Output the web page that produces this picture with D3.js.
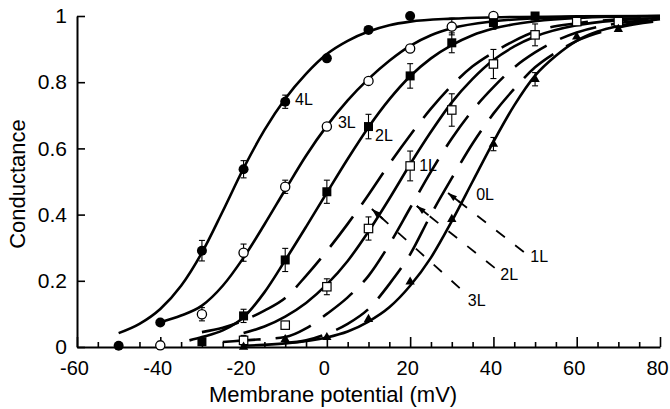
<!DOCTYPE html>
<html>
<head>
<meta charset="utf-8">
<script src="https://cdn.jsdelivr.net/npm/d3@7"></script>
<style>
  body { margin: 0; background: #fff; }
  svg { display: block; font-family: "Liberation Sans", Arial, sans-serif; }
</style>
</head>
<body>
<svg id="chart"></svg>
<script>
// axis ticks
const xMajor = [-60, -40, -20, 0, 20, 40, 60, 80];
const xTickLabels = ["-60", "-40", "-20", "0", "20", "40", "60", "80"];
const xMinor = [-55, -50, -45, -35, -30, -25, -15, -10, -5, 5, 10, 15, 25, 30, 35, 45, 50, 55, 65, 70, 75];
const yTicks = [0, 0.2, 0.4, 0.6, 0.8, 1];
const yTickLabels = ["0", "0.2", "0.4", "0.6", "0.8", "1"];

// measured points: [mV, conductance, error]
const pts4L = [[-50, 0.004, 0], [-40, 0.074, 0], [-30, 0.291, 0.031], [-20, 0.537, 0.026], [-10, 0.741, 0.02], [0, 0.872, 0], [10, 0.958, 0], [20, 1.0, 0]];
const pts3L = [[-40, 0.005, 0.012], [-30, 0.099, 0.02], [-20, 0.285, 0.026], [-10, 0.484, 0.02], [0, 0.666, 0], [10, 0.804, 0], [20, 0.902, 0], [30, 0.968, 0.025], [40, 1.0, 0]];
const pts2L = [[-30, 0.016, 0], [-20, 0.094, 0.02], [-10, 0.263, 0.035], [0, 0.469, 0.035], [10, 0.666, 0.037], [20, 0.819, 0.037], [30, 0.919, 0.03], [40, 0.98, 0.02], [50, 1.0, 0]];
const pts1L = [[-20, 0.02, 0.015], [-10, 0.066, 0], [0, 0.182, 0.024], [10, 0.358, 0.035], [20, 0.547, 0.045], [30, 0.716, 0.049], [40, 0.855, 0.044], [50, 0.943, 0.033], [60, 0.983, 0], [70, 0.983, 0]];
const pts0L = [[-20, 0.0, 0], [-10, 0.023, 0], [0, 0.029, 0], [10, 0.084, 0], [20, 0.197, 0], [30, 0.386, 0], [40, 0.613, 0.02], [50, 0.809, 0.02], [60, 0.937, 0], [70, 0.96, 0]];

// fitted curves (solid)
const fit4L = [[-50, 0.042], [-45, 0.07], [-40, 0.115], [-35, 0.185], [-30, 0.285], [-25, 0.41], [-20, 0.54], [-15, 0.655], [-10, 0.75], [-5, 0.825], [0, 0.885], [5, 0.925], [10, 0.953], [15, 0.972], [20, 0.983], [30, 0.992], [40, 0.996], [60, 0.999], [80, 1.0]];
const fit3L = [[-40, 0.075], [-35, 0.095], [-30, 0.125], [-25, 0.185], [-20, 0.27], [-15, 0.37], [-10, 0.475], [-5, 0.578], [0, 0.668], [5, 0.745], [10, 0.81], [15, 0.865], [20, 0.91], [25, 0.942], [30, 0.963], [40, 0.984], [50, 0.993], [60, 0.997], [80, 1.0]];
const fit2L = [[-33, 0.02], [-30, 0.03], [-25, 0.05], [-20, 0.09], [-15, 0.165], [-10, 0.262], [-5, 0.363], [0, 0.466], [5, 0.568], [10, 0.664], [15, 0.748], [20, 0.818], [25, 0.872], [30, 0.912], [35, 0.942], [40, 0.962], [50, 0.984], [60, 0.994], [80, 1.0]];
const fit1L = [[-20, 0.042], [-15, 0.062], [-10, 0.092], [-5, 0.133], [0, 0.189], [5, 0.26], [10, 0.349], [15, 0.448], [20, 0.552], [25, 0.65], [30, 0.739], [35, 0.81], [40, 0.867], [45, 0.908], [50, 0.938], [60, 0.972], [70, 0.987], [80, 0.994]];
const fit0L = [[-20, 0.004], [-10, 0.011], [0, 0.029], [5, 0.047], [10, 0.077], [15, 0.12], [20, 0.185], [25, 0.27], [30, 0.38], [35, 0.5], [40, 0.62], [45, 0.73], [50, 0.82], [55, 0.88], [60, 0.925], [65, 0.953], [70, 0.97], [75, 0.982], [80, 0.99]];

// predicted curves (dashed)
const pred3L = [[-30, 0.045], [-25, 0.058], [-20, 0.08], [-15, 0.11], [-10, 0.148], [-5, 0.215], [0, 0.29], [5, 0.372], [10, 0.46], [15, 0.553], [20, 0.64], [25, 0.72], [30, 0.79], [35, 0.848], [40, 0.89], [45, 0.925], [50, 0.953], [60, 0.978], [70, 0.99], [80, 0.995]];
const pred2L = [[-25, 0.015], [-20, 0.02], [-10, 0.03], [-5, 0.056], [0, 0.1], [5, 0.15], [10, 0.215], [15, 0.31], [20, 0.42], [25, 0.53], [30, 0.63], [35, 0.715], [40, 0.785], [45, 0.845], [50, 0.89], [55, 0.925], [60, 0.95], [70, 0.978], [80, 0.99]];
const pred1L = [[-10, 0.012], [-5, 0.02], [0, 0.04], [5, 0.07], [10, 0.115], [15, 0.19], [20, 0.28], [25, 0.4], [30, 0.51], [35, 0.615], [40, 0.705], [45, 0.78], [50, 0.845], [55, 0.89], [60, 0.925], [70, 0.965], [80, 0.985]];

// curve labels [text, mV, conductance]
const curveLabels = [["4L", -5.5, 0.748], ["3L", 4.8, 0.678], ["2L", 13.7, 0.64], ["1L", 24.3, 0.55], ["0L", 38, 0.462],
  ["1L", 51, 0.275], ["2L", 43.8, 0.22], ["3L", 36, 0.142]];
// leader lines to the dashed curves [tip mV, tip g, end mV, end g]
const leaders = [[29.1, 0.465, 47.3, 0.287], [21.6, 0.426, 40.3, 0.239], [10.8, 0.417, 31.9, 0.178]];

const width = 670, height = 409;
const svg = d3.select("#chart").attr("width", width).attr("height", height);

const x = d3.scaleLinear().domain([-60, 80]).range([77, 660]);
const y = d3.scaleLinear().domain([0, 1]).range([347, 16]);

// axes
svg.append("g")
  .attr("class", "x-axis")
  .attr("transform", `translate(0,${y(0)})`)
  .call(d3.axisBottom(x).tickValues(xMajor).tickSizeInner(-10).tickSizeOuter(0).tickPadding(14)
    .tickFormat((d, i) => xTickLabels[i]));
svg.append("g")
  .attr("transform", `translate(0,${y(0)})`)
  .call(d3.axisBottom(x).tickValues(xMinor).tickSizeInner(-5).tickSizeOuter(0).tickFormat(""))
  .call(g => g.select(".domain").remove());
svg.append("g")
  .attr("transform", `translate(${x(-60)},0)`)
  .call(d3.axisLeft(y).tickValues(yTicks).tickSizeInner(-8).tickSizeOuter(0).tickPadding(10)
    .tickFormat((d, i) => yTickLabels[i]));

svg.selectAll(".domain").attr("stroke-width", 2);
svg.selectAll(".tick line").attr("stroke-width", 1.6);
svg.selectAll(".tick text")
  .attr("font-size", 21)
  .attr("font-family", "'Liberation Sans', Arial, sans-serif")
  .attr("fill", "#000");
svg.selectAll(".x-axis .tick text")
  .attr("font-size", 20)
  .attr("dx", -3);

svg.append("text")
  .attr("x", x(1.5))
  .attr("y", 402)
  .attr("text-anchor", "middle")
  .attr("font-size", 22)
  .text("Membrane potential (mV)");

svg.append("text")
  .attr("transform", `translate(25,184) rotate(-90)`)
  .attr("text-anchor", "middle")
  .attr("font-size", 22)
  .text("Conductance");

// curves
const line = d3.line()
  .x(d => x(d[0]))
  .y(d => y(d[1]))
  .curve(d3.curveMonotoneX);

[fit4L, fit3L, fit2L, fit1L, fit0L].forEach(c => {
  svg.append("path")
    .attr("d", line(c))
    .attr("fill", "none")
    .attr("stroke", "black")
    .attr("stroke-width", 2.6);
});

[pred3L, pred2L, pred1L].forEach(c => {
  svg.append("path")
    .attr("d", line(c))
    .attr("fill", "none")
    .attr("stroke", "black")
    .attr("stroke-width", 2.6)
    .attr("stroke-dasharray", "38,15");
});

// leaders with an arrowhead at the tip
leaders.forEach(l => {
  const x0 = x(l[0]), y0 = y(l[1]), x1 = x(l[2]), y1 = y(l[3]);
  const ang = Math.atan2(y1 - y0, x1 - x0);
  svg.append("line")
    .attr("x1", x1).attr("y1", y1)
    .attr("x2", x0).attr("y2", y0)
    .attr("stroke", "black")
    .attr("stroke-width", 1.8)
    .attr("stroke-dasharray", "11,13");
  svg.append("line")
    .attr("x1", x0).attr("y1", y0)
    .attr("x2", x0 + 15 * Math.cos(ang)).attr("y2", y0 + 15 * Math.sin(ang))
    .attr("stroke", "black")
    .attr("stroke-width", 1.8);
  svg.append("path")
    .attr("d", "M0,0 L9,-3 L9,3 Z")
    .attr("transform", `translate(${x0},${y0}) rotate(${ang * 180 / Math.PI})`)
    .attr("fill", "black");
});

// error bars
const errG = svg.append("g").attr("stroke", "black").attr("stroke-width", 1.1);
[pts4L, pts3L, pts2L, pts1L, pts0L].forEach(s => {
  s.filter(d => d[2] > 0).forEach(d => {
    errG.append("line").attr("x1", x(d[0])).attr("x2", x(d[0]))
      .attr("y1", y(d[1] - d[2])).attr("y2", y(d[1] + d[2]));
    [d[1] - d[2], d[1] + d[2]].forEach(v => {
      errG.append("line").attr("x1", x(d[0]) - 3).attr("x2", x(d[0]) + 3)
        .attr("y1", y(v)).attr("y2", y(v));
    });
  });
});

// markers
svg.append("g").selectAll("circle").data(pts4L).join("circle")
  .attr("cx", d => x(d[0])).attr("cy", d => y(d[1])).attr("r", 5)
  .attr("fill", "black");
svg.append("g").selectAll("circle").data(pts3L).join("circle")
  .attr("cx", d => x(d[0])).attr("cy", d => y(d[1])).attr("r", 4.6)
  .attr("fill", "white").attr("stroke", "black").attr("stroke-width", 1.3);
svg.append("g").selectAll("rect").data(pts2L).join("rect")
  .attr("x", d => x(d[0]) - 4.5).attr("y", d => y(d[1]) - 4.5)
  .attr("width", 9).attr("height", 9)
  .attr("fill", "black");
svg.append("g").selectAll("rect").data(pts1L).join("rect")
  .attr("x", d => x(d[0]) - 4.2).attr("y", d => y(d[1]) - 4.2)
  .attr("width", 8.4).attr("height", 8.4)
  .attr("fill", "white").attr("stroke", "black").attr("stroke-width", 1.2);
svg.append("g").selectAll("path").data(pts0L).join("path")
  .attr("d", d3.symbol(d3.symbolTriangle, 38))
  .attr("transform", d => `translate(${x(d[0])},${y(d[1])})`)
  .attr("fill", "black");

// labels
svg.append("g").selectAll("text").data(curveLabels).join("text")
  .attr("x", d => x(d[1])).attr("y", d => y(d[2]))
  .attr("text-anchor", "middle")
  .attr("dy", "0.36em")
  .attr("font-size", 16)
  .text(d => d[0]);
</script>
</body>
</html>
